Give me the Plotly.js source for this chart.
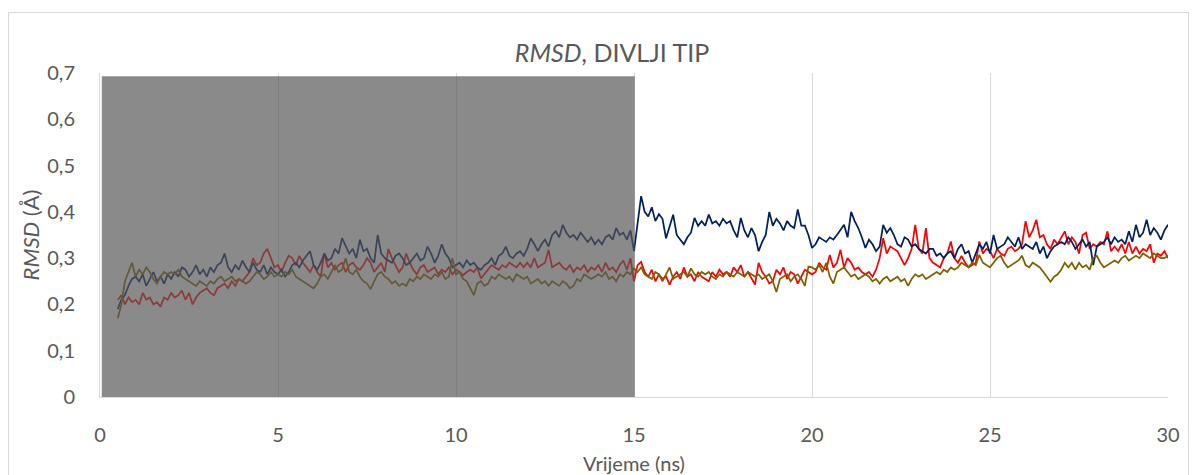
<!DOCTYPE html>
<html>
<head>
<meta charset="utf-8">
<script src="https://cdn.plot.ly/plotly-3.0.1.min.js"></script>
<style>
  html, body { margin: 0; padding: 0; background: #ffffff; overflow: hidden; }
  #wrap { position: relative; width: 1200px; height: 475px; }
  #frame { position: absolute; left: 8px; top: 12px; width: 1181px; height: 480px; border: 1px solid #d9d9d9; box-sizing: border-box; }
  #chart { position: absolute; left: 0; top: 0; width: 1200px; height: 475px; }
</style>
</head>
<body>
<div id="wrap">
  <div id="frame"></div>
  <div id="chart"></div>
</div>
<script>
// Sampling of the trajectory (ns)
const startTime = 0.5;
const stepTime = 0.1;

// RMSD series (Å), one value per 0.1 ns from 0.5 to 30 ns
const rmsdNavy = [
  0.19, 0.21, 0.22, 0.24, 0.255,
  0.26, 0.25, 0.265, 0.24, 0.255, 0.27, 0.25, 0.26, 0.245, 0.265,
  0.255, 0.27, 0.26, 0.28, 0.275, 0.26, 0.27, 0.285, 0.265, 0.275,
  0.26, 0.28, 0.27, 0.285, 0.29, 0.31, 0.28, 0.27, 0.285, 0.275,
  0.295, 0.28, 0.27, 0.29, 0.275, 0.27, 0.285, 0.265, 0.28, 0.27,
  0.265, 0.275, 0.26, 0.27, 0.285, 0.29, 0.28, 0.295, 0.305, 0.315,
  0.285, 0.275, 0.29, 0.31, 0.295, 0.3, 0.32, 0.31, 0.343, 0.325,
  0.31, 0.32, 0.3, 0.34, 0.315, 0.32, 0.3, 0.29, 0.35, 0.31,
  0.3, 0.295, 0.29, 0.305, 0.31, 0.3, 0.285, 0.29, 0.3, 0.31,
  0.295, 0.3, 0.325, 0.31, 0.29, 0.305, 0.33, 0.31, 0.3, 0.28,
  0.285, 0.29, 0.28, 0.295, 0.285, 0.29, 0.28, 0.275, 0.285, 0.29,
  0.3, 0.285, 0.305, 0.31, 0.325, 0.305, 0.3, 0.31, 0.315, 0.305,
  0.32, 0.343, 0.33, 0.315, 0.33, 0.34, 0.325, 0.35, 0.358, 0.345,
  0.372, 0.355, 0.345, 0.35, 0.34, 0.355, 0.345, 0.335, 0.345, 0.33,
  0.34, 0.33, 0.345, 0.35, 0.34, 0.365, 0.35, 0.355, 0.34, 0.36,
  0.315, 0.37, 0.434, 0.4, 0.39, 0.41, 0.38, 0.395, 0.385, 0.343,
  0.37, 0.394, 0.35, 0.34, 0.33, 0.345, 0.355, 0.387, 0.37, 0.38,
  0.37, 0.394, 0.375, 0.38, 0.37, 0.385, 0.375, 0.38, 0.36, 0.345,
  0.387, 0.36, 0.345, 0.365, 0.35, 0.315, 0.335, 0.35, 0.4, 0.37,
  0.385, 0.375, 0.36, 0.38, 0.37, 0.365, 0.405, 0.37, 0.37, 0.35,
  0.322, 0.33, 0.345, 0.34, 0.335, 0.345, 0.34, 0.35, 0.36, 0.372,
  0.345, 0.4, 0.38, 0.365, 0.345, 0.322, 0.34, 0.33, 0.315, 0.325,
  0.372, 0.355, 0.365, 0.35, 0.33, 0.325, 0.345, 0.34, 0.325, 0.33,
  0.32, 0.315, 0.31, 0.32, 0.32, 0.305, 0.31, 0.3, 0.31, 0.315,
  0.3, 0.32, 0.33, 0.31, 0.315, 0.29, 0.31, 0.33, 0.32, 0.335,
  0.31, 0.35, 0.32, 0.325, 0.33, 0.345, 0.335, 0.325, 0.345, 0.32,
  0.33, 0.325, 0.32, 0.335, 0.31, 0.325, 0.3, 0.315, 0.325, 0.33,
  0.335, 0.33, 0.345, 0.335, 0.32, 0.33, 0.34, 0.325, 0.335, 0.285,
  0.325, 0.33, 0.335, 0.345, 0.33, 0.345, 0.335, 0.34, 0.33, 0.358,
  0.335, 0.372, 0.345, 0.355, 0.383, 0.35, 0.365, 0.355, 0.34, 0.36,
  0.372
];

const rmsdRed = [
  0.21, 0.22, 0.2, 0.215, 0.205,
  0.21, 0.2, 0.225, 0.21, 0.215, 0.2, 0.205, 0.195, 0.215, 0.21,
  0.225, 0.215, 0.22, 0.23, 0.21, 0.225, 0.2, 0.215, 0.225, 0.23,
  0.235, 0.225, 0.22, 0.235, 0.24, 0.245, 0.235, 0.25, 0.24, 0.255,
  0.25, 0.26, 0.27, 0.3, 0.285, 0.29, 0.31, 0.32, 0.3, 0.28,
  0.285, 0.27, 0.29, 0.305, 0.3, 0.285, 0.305, 0.29, 0.28, 0.27,
  0.285, 0.27, 0.26, 0.31, 0.28, 0.29, 0.275, 0.285, 0.29, 0.27,
  0.285, 0.29, 0.28, 0.275, 0.285, 0.3, 0.29, 0.27, 0.28, 0.29,
  0.27, 0.32, 0.3, 0.285, 0.27, 0.28, 0.31, 0.29, 0.275, 0.265,
  0.28, 0.285, 0.27, 0.275, 0.28, 0.265, 0.275, 0.27, 0.28, 0.265,
  0.275, 0.27, 0.263, 0.27, 0.275, 0.27, 0.28, 0.256, 0.265, 0.275,
  0.285, 0.28, 0.275, 0.285, 0.28, 0.29, 0.285, 0.28, 0.29, 0.28,
  0.29, 0.28, 0.3, 0.28, 0.285, 0.29, 0.318, 0.28, 0.285, 0.29,
  0.28, 0.275, 0.285, 0.27, 0.28, 0.275, 0.285, 0.27, 0.28, 0.275,
  0.285, 0.27, 0.29, 0.275, 0.28, 0.27, 0.285, 0.295, 0.275, 0.3,
  0.25, 0.285, 0.292, 0.27, 0.26, 0.275, 0.25, 0.265, 0.255, 0.26,
  0.243, 0.26, 0.27, 0.255, 0.28, 0.26, 0.265, 0.25, 0.27, 0.26,
  0.255, 0.25, 0.27, 0.26, 0.275, 0.265, 0.27, 0.26, 0.28, 0.27,
  0.285, 0.26, 0.27, 0.255, 0.243, 0.29, 0.27, 0.26, 0.245, 0.25,
  0.275, 0.265, 0.28, 0.255, 0.27, 0.265, 0.245, 0.26, 0.275, 0.27,
  0.265, 0.27, 0.29, 0.28, 0.275, 0.307, 0.28, 0.29, 0.318, 0.28,
  0.3, 0.29, 0.275, 0.28, 0.27, 0.265, 0.27, 0.26, 0.275, 0.3,
  0.343, 0.31, 0.325, 0.32, 0.315, 0.3, 0.285, 0.3, 0.32, 0.372,
  0.32, 0.31, 0.365, 0.3, 0.29, 0.285, 0.28, 0.3, 0.31, 0.336,
  0.3, 0.29, 0.305, 0.29, 0.28, 0.285, 0.29, 0.336, 0.31, 0.32,
  0.315, 0.3, 0.32, 0.31, 0.305, 0.32, 0.325, 0.315, 0.32, 0.33,
  0.38, 0.345, 0.36, 0.383, 0.345, 0.35, 0.33, 0.32, 0.34, 0.33,
  0.345, 0.358, 0.33, 0.345, 0.335, 0.31, 0.35, 0.355, 0.32, 0.33,
  0.325, 0.335, 0.33, 0.358, 0.315, 0.325, 0.315, 0.33, 0.31, 0.335,
  0.31, 0.325, 0.31, 0.32, 0.315, 0.33, 0.29, 0.31, 0.305, 0.315,
  0.3
];

const rmsdOlive = [
  0.17, 0.2, 0.25, 0.27, 0.29,
  0.26, 0.275, 0.265, 0.28, 0.27, 0.255, 0.245, 0.26, 0.27, 0.265,
  0.27, 0.265, 0.275, 0.26, 0.255, 0.25, 0.245, 0.24, 0.25, 0.245,
  0.24, 0.25, 0.245, 0.255, 0.26, 0.25, 0.255, 0.26, 0.25, 0.255,
  0.25, 0.245, 0.25, 0.26, 0.27, 0.265, 0.255, 0.26, 0.27, 0.26,
  0.265, 0.26, 0.27, 0.265, 0.275, 0.26, 0.255, 0.25, 0.245, 0.24,
  0.235, 0.245, 0.26, 0.265, 0.255, 0.27, 0.285, 0.27, 0.275, 0.3,
  0.27, 0.265, 0.275, 0.26, 0.25, 0.245, 0.233, 0.25, 0.265, 0.27,
  0.26, 0.255, 0.245, 0.25, 0.24, 0.245, 0.24, 0.255, 0.25, 0.26,
  0.255, 0.265, 0.26, 0.255, 0.265, 0.26, 0.27, 0.255, 0.26, 0.3,
  0.265, 0.27, 0.255, 0.25, 0.235, 0.22, 0.245, 0.25, 0.24, 0.245,
  0.26, 0.255, 0.265, 0.26, 0.255, 0.26, 0.25, 0.265, 0.26, 0.255,
  0.26, 0.245, 0.25, 0.255, 0.245, 0.25, 0.24, 0.25, 0.245, 0.24,
  0.25, 0.245, 0.235, 0.24, 0.255, 0.25, 0.265, 0.26, 0.255, 0.26,
  0.265, 0.26, 0.27, 0.255, 0.26, 0.25, 0.265, 0.26, 0.27, 0.265,
  0.278, 0.27, 0.28, 0.265, 0.26, 0.255, 0.27, 0.265, 0.25, 0.265,
  0.28, 0.255, 0.26, 0.265, 0.27, 0.26, 0.278, 0.265, 0.26, 0.27,
  0.265, 0.27, 0.26, 0.255, 0.265, 0.26, 0.27, 0.265, 0.26, 0.27,
  0.265, 0.26, 0.27, 0.265, 0.26, 0.265, 0.255, 0.26, 0.265, 0.25,
  0.227, 0.255, 0.26, 0.265, 0.25, 0.26, 0.265, 0.255, 0.24, 0.282,
  0.28, 0.275, 0.285, 0.27, 0.29, 0.26, 0.245, 0.27, 0.275, 0.28,
  0.27, 0.26, 0.265, 0.255, 0.26, 0.265, 0.26, 0.25, 0.255, 0.245,
  0.255, 0.26, 0.25, 0.255, 0.26, 0.25, 0.255, 0.24, 0.255, 0.265,
  0.26, 0.265, 0.255, 0.26, 0.265, 0.27, 0.265, 0.275, 0.27, 0.28,
  0.275, 0.28, 0.29, 0.285, 0.28, 0.29, 0.285, 0.307, 0.29, 0.285,
  0.28, 0.29, 0.3, 0.305, 0.29, 0.28, 0.285, 0.29, 0.295, 0.305,
  0.285, 0.28, 0.29, 0.285, 0.28, 0.27, 0.26, 0.249, 0.26, 0.265,
  0.275, 0.29, 0.28, 0.29, 0.275, 0.29, 0.28, 0.285, 0.275, 0.3,
  0.305, 0.29, 0.28, 0.285, 0.29, 0.295, 0.29, 0.3, 0.305, 0.295,
  0.3, 0.305, 0.3, 0.31, 0.305, 0.3, 0.31, 0.305, 0.3, 0.3,
  0.305
];

// Axis ticks
const xTickVals = [0, 5, 10, 15, 20, 25, 30];
const yTickVals = [0, 0.1, 0.2, 0.3, 0.4, 0.5, 0.6, 0.7];
const yTickText = ['0', '0,1', '0,2', '0,3', '0,4', '0,5', '0,6', '0,7'];

const timeNs = rmsdNavy.map((_, i) => +(startTime + i * stepTime).toFixed(1));

const FONT = 'Lato, "Noto Sans", sans-serif';
const GREY_TXT = '#595959';

const traces = [
  { x: timeNs, y: rmsdRed, type: 'scatter', mode: 'lines', line: { color: '#FF0000', width: 1.75 }, showlegend: false, hoverinfo: 'skip' },
  { x: timeNs, y: rmsdNavy, type: 'scatter', mode: 'lines', line: { color: '#002060', width: 1.75 }, showlegend: false, hoverinfo: 'skip' },
  { x: timeNs, y: rmsdOlive, type: 'scatter', mode: 'lines', line: { color: '#7F6000', width: 1.75 }, showlegend: false, hoverinfo: 'skip' }
];

const layout = {
  width: 1200,
  height: 475,
  margin: { l: 100, r: 32, t: 73, b: 78 },
  paper_bgcolor: 'rgba(0,0,0,0)',
  plot_bgcolor: 'rgba(0,0,0,0)',
  font: { family: FONT, color: GREY_TXT, size: 20 },
  title: {
    text: '<i>RMSD</i>, DIVLJI TIP',
    font: { family: FONT, size: 25, color: GREY_TXT },
    xref: 'container', x: 0.51, xanchor: 'center',
    yref: 'container', y: 0.888, yanchor: 'middle'
  },
  xaxis: {
    range: [0, 30],
    tickvals: xTickVals,
    ticks: '',
    showgrid: true, gridcolor: '#d9d9d9', gridwidth: 1,
    zeroline: false,
    showline: true, linecolor: '#d9d9d9', linewidth: 1,
    tickfont: { family: FONT, size: 20, color: GREY_TXT },
    ticklabelstandoff: 20,
    title: { text: 'Vrijeme (ns)', font: { family: FONT, size: 20, color: GREY_TXT }, standoff: 12 },
    fixedrange: true
  },
  yaxis: {
    range: [0, 0.7],
    tickvals: yTickVals,
    ticktext: yTickText,
    ticks: '',
    showgrid: false,
    zeroline: false,
    showline: true, linecolor: '#d9d9d9', linewidth: 1,
    tickfont: { family: FONT, size: 20, color: GREY_TXT },
    ticklabelstandoff: 20,
    title: { text: '<i>RMSD</i> (Å)', font: { family: FONT, size: 22, color: GREY_TXT }, standoff: 1 },
    fixedrange: true
  },
  shapes: [
    {
      type: 'rect', layer: 'above',
      xref: 'x', yref: 'y',
      x0: 0.05, x1: 15.02, y0: 0, y1: 0.693,
      fillcolor: 'rgba(86,86,86,0.694)',
      line: { width: 0 }
    }
  ]
};

Plotly.newPlot('chart', traces, layout, { displayModeBar: false, staticPlot: true });
</script>
</body>
</html>
